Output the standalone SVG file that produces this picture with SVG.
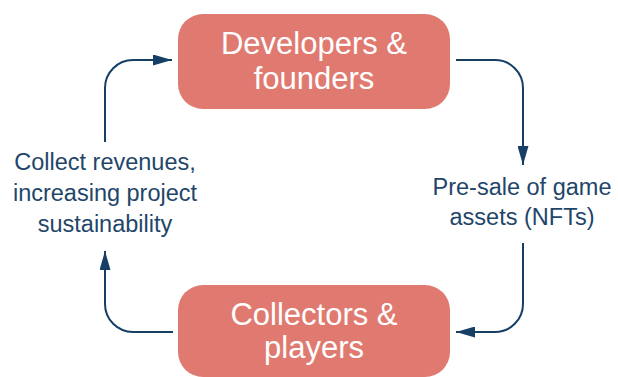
<svg xmlns="http://www.w3.org/2000/svg" width="618" height="377" viewBox="0 0 618 377">
<defs>
<style>
.box{fill:#E07A70}
.bt{font-family:"Liberation Sans",Arial,sans-serif;font-size:31px;fill:#ffffff;text-anchor:middle}
.lt{font-family:"Liberation Sans",Arial,sans-serif;font-size:23.5px;fill:#1F4669;text-anchor:middle}
.conn{fill:none;stroke:#173F66;stroke-width:2}
</style>
<marker id="ah" viewBox="0 0 19 11" refX="19" refY="5.5" markerWidth="19" markerHeight="11" markerUnits="userSpaceOnUse" orient="auto">
<path d="M0,0 L19,5.5 L0,11 Z" fill="#173F66"/>
</marker>
</defs>
<rect width="618" height="377" fill="#ffffff"/>
<g id="node-developers">
<rect class="box" x="178" y="14" width="272" height="95" rx="25"/>
<text class="bt" x="314" y="54">Developers &amp;</text>
<text class="bt" x="314" y="89">founders</text>
</g>
<g id="node-collectors">
<rect class="box" x="178" y="285" width="272" height="92" rx="25"/>
<text class="bt" x="314" y="325">Collectors &amp;</text>
<text class="bt" x="314" y="358">players</text>
</g>
<g id="label-presale">
<text class="lt" x="522" y="195">Pre-sale of game</text>
<text class="lt" x="522" y="225">assets (NFTs)</text>
</g>
<g id="label-collect">
<text class="lt" x="105" y="170">Collect revenues,</text>
<text class="lt" x="105" y="201">increasing project</text>
<text class="lt" x="105" y="232">sustainability</text>
</g>
<g id="connectors">
<path class="conn" d="M456,60 H495 A28,28 0 0 1 523,88 V165" marker-end="url(#ah)"/>
<path class="conn" d="M523,243 V304 A28,28 0 0 1 495,332 H456" marker-end="url(#ah)"/>
<path class="conn" d="M173,332 H133 A28,28 0 0 1 105,304 V251" marker-end="url(#ah)"/>
<path class="conn" d="M105,142 V88 A28,28 0 0 1 133,60 H172" marker-end="url(#ah)"/>
</g>
</svg>
